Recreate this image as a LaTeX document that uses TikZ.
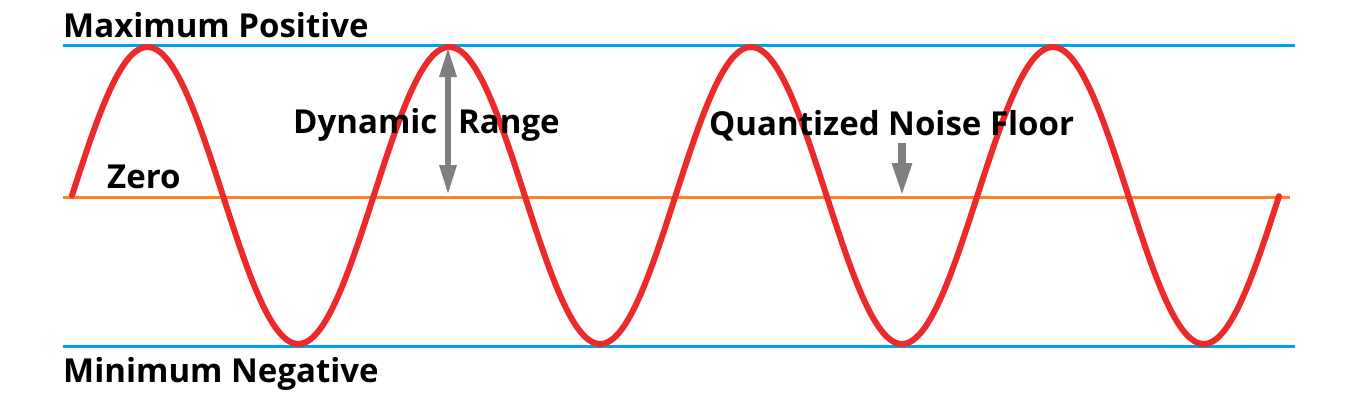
\documentclass[tikz,border=0pt]{standalone}
\usepackage{fontspec}
\setmainfont{Open Sans}
\usetikzlibrary{arrows.meta}
\definecolor{pblue}{HTML}{00A2E8}
\definecolor{porange}{HTML}{FF7F27}
\definecolor{pred}{HTML}{EC2A2A}
\definecolor{pgray}{HTML}{7F7F7F}
\tikzset{
  lbl/.style={anchor=base west, inner sep=0pt, font=\fontsize{33}{33}\selectfont\bfseries},
  level/.style={line width=3pt, pblue},
  zeroline/.style={line width=3pt, porange},
  wave/.style={line width=6pt, pred, line cap=round},
  grayarrow/.style={pgray, line width=#1},
}
\begin{document}
\begin{tikzpicture}[x=1pt,y=-1pt]
\useasboundingbox (0,0) rectangle (1358,400);
\fill[white] (0,0) rectangle (1358,400);
% level lines
\coordinate (tl) at (63,45);  \coordinate (tr) at (1295,45);
\coordinate (zl) at (63,197); \coordinate (zr) at (1290,197);
\coordinate (bl) at (63,346); \coordinate (br) at (1295,346);
\draw[level] (tl) -- (tr);
\draw[level] (bl) -- (br);
\draw[zeroline] (zl) -- (zr);
% wave
\draw[wave] plot[domain=72:1279, samples=400, smooth] (\x, {195.5 - 148.5*sin(1.19284*(\x-72))});
% labels
\node[lbl] (maxp) at (63,37) {Maximum Positive};
\node[lbl] (minn) at (63,382) {Minimum Negative};
\node[lbl] (zero) at (107,188) {Zero};
\node[lbl] (dyn) at (293,133) {Dynamic};
\node[lbl] (rng) at (458,133) {Range};
\node[lbl] (qnf) at (709,135) {Quantized Noise Floor};
% arrows
\coordinate (dtop) at (448,47);
\coordinate (dbot) at (448,195);
\draw[grayarrow=6pt, {Triangle[width=16pt,length=30pt]}-{Triangle[width=16pt,length=30pt]}] (dtop) -- (dbot);
\coordinate (ntop) at (902,143);
\coordinate (nbot) at (902,197);
\draw[grayarrow=8pt, -{Triangle[width=18pt,length=34pt]}] (ntop) -- (nbot);
\end{tikzpicture}
\end{document}
